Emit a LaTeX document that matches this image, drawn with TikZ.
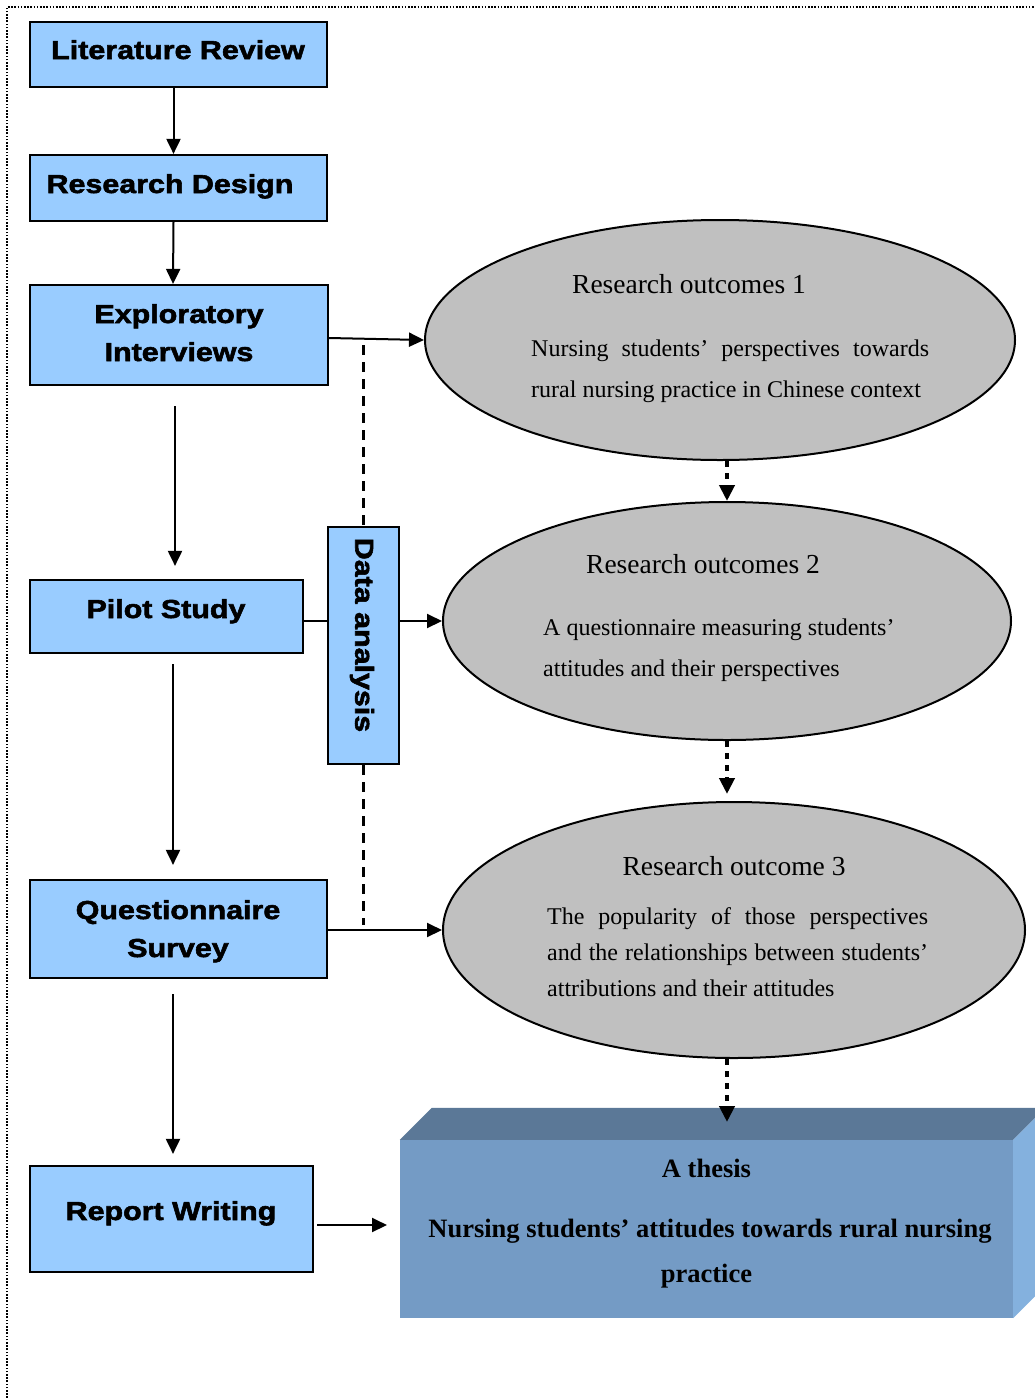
\documentclass[tikz,border=0pt]{standalone}
\usepackage{fontspec}
\setmainfont{Liberation Serif}
\newfontfamily\stagefamily{Liberation Sans}[FakeStretch=1.17, BoldFeatures={FakeBold=2.2}]
\usetikzlibrary{arrows.meta,shapes.geometric,calc}

\definecolor{boxblue}{RGB}{153,204,255}
\definecolor{outgray}{RGB}{192,192,192}
\definecolor{thesisfront}{RGB}{116,155,197}
\definecolor{thesistop}{RGB}{91,120,151}
\definecolor{thesisside}{RGB}{132,177,222}

\newcommand{\stagefont}{\stagefamily\bfseries\fontsize{26}{38}\selectfont}
\newcommand{\titlefont}{\fontsize{27.5}{33}\selectfont}
\newcommand{\bodyfont}{\fontsize{24}{41}\selectfont}
\newcommand{\thesisfont}{\bfseries\fontsize{26.5}{47}\selectfont}

\begin{document}
\begin{tikzpicture}[x=1pt,y=-1pt,
  stage/.style={draw=black, line width=2.2pt, fill=boxblue, inner sep=0pt},
  outcome/.style={ellipse, draw=black, line width=2pt, fill=outgray, inner sep=0pt},
  flow/.style={line width=2pt, -{Triangle[length=15pt,width=14pt]}},
  link/.style={line width=2pt},
  guide/.style={line width=2.2pt, dash pattern=on 10pt off 7pt},
  chain/.style={line width=4.5pt, dash pattern=on 6pt off 6pt,
                -{Triangle[length=16pt,width=15pt]}},
  label/.style={anchor=base, inner sep=0pt}]

\useasboundingbox (0,0) rectangle (1034,1398);

% page frame
\draw[line width=1.6pt, dash pattern=on 1.6pt off 1.6pt] (7,1398) -- (7,7) -- (1034,7);

% process stages
\node[stage, minimum width=297pt, minimum height=65pt]  (lr) at (178.5,54.5) {};
\node[stage, minimum width=297pt, minimum height=66pt]  (rd) at (178.5,188)  {};
\node[stage, minimum width=298pt, minimum height=100pt] (ei) at (179,335)    {};
\node[stage, minimum width=273pt, minimum height=73pt]  (ps) at (166.5,616.5){};
\node[stage, minimum width=297pt, minimum height=98pt]  (qs) at (178.5,929)  {};
\node[stage, minimum width=283pt, minimum height=106pt] (rw) at (171.5,1219) {};
\node[stage, minimum width=71pt,  minimum height=237pt] (da) at (363.5,645.5){};

\node[label, font=\stagefont] (lrt)  at (178,59)  {Literature Review};
\node[label, font=\stagefont] (rdt)  at (170,193) {Research Design};
\node[label, font=\stagefont] (eit1) at (179,323) {Exploratory};
\node[label, font=\stagefont] (eit2) at (179,361) {Interviews};
\node[label, font=\stagefont] (pst)  at (166,618) {Pilot Study};
\node[label, font=\stagefont] (qst1) at (178,919) {Questionnaire};
\node[label, font=\stagefont] (qst2) at (178,957) {Survey};
\node[label, font=\stagefont] (rwt)  at (171,1220){Report Writing};
\node[rotate=-90, inner sep=0pt, font=\stagefont] (dat) at (362,635) {Data analysis};

% research outcomes
\node[outcome, minimum width=590pt, minimum height=240pt] (e1) at (720,340) {};
\node[outcome, minimum width=568pt, minimum height=238pt] (e2) at (727,621) {};
\node[outcome, minimum width=582pt, minimum height=256pt] (e3) at (734,930) {};

\node[label, font=\titlefont] (e1t) at (689,293) {Research outcomes 1};
\node[label, anchor=base west, font=\bodyfont] (e1a) at (531,356)
  {\makebox[398pt][s]{Nursing students’ perspectives towards}};
\node[label, anchor=base west, font=\bodyfont] (e1b) at (531,397)
  {rural nursing practice in Chinese context};

\node[label, font=\titlefont] (e2t) at (703,573) {Research outcomes 2};
\node[label, anchor=base west, font=\bodyfont] (e2a) at (543,635)
  {A questionnaire measuring students’};
\node[label, anchor=base west, font=\bodyfont] (e2b) at (543,676)
  {attitudes and their perspectives};

\node[label, font=\titlefont] (e3t) at (734,875) {Research outcome 3};
\node[label, anchor=base west, font=\bodyfont] (e3a) at (547,924)
  {\makebox[381pt][s]{The popularity of those perspectives}};
\node[label, anchor=base west, font=\bodyfont] (e3b) at (547,960)
  {\makebox[381pt][s]{and the relationships between students’}};
\node[label, anchor=base west, font=\bodyfont] (e3c) at (547,996)
  {attributions and their attitudes};

% thesis block with its bevelled top and side
\node[fill=thesisfront, inner sep=0pt, minimum width=613pt, minimum height=178pt]
  (thesis) at (706.5,1229) {};
\fill[thesistop] (thesis.north west) -- ++(32,-32)
  -- ($(thesis.north east)+(32,-32)$) -- (thesis.north east) -- cycle;
\fill[thesisside] (thesis.north east) -- ++(32,-32)
  -- ($(thesis.south east)+(32,-32)$) -- (thesis.south east) -- cycle;

\node[label, font=\thesisfont] (tht) at (706.5,1177) {A thesis};
\node[label, font=\thesisfont] (tha) at (710,1237)
  {Nursing students’ attitudes towards rural nursing};
\node[label, font=\thesisfont] (thb) at (706.5,1282) {practice};

% main sequence
\draw[flow] ([xshift=-5pt]lr.south) -- ([xshift=-5pt]rd.north);
\draw[flow] ([xshift=-5pt]rd.south) -- ([xshift=-6pt]ei.north);
\draw[flow] ([xshift=-4pt,yshift=-20pt]ei.south) -- ([xshift=8.5pt,yshift=13pt]ps.north);
\draw[flow] ([xshift=6.5pt,yshift=-10pt]ps.south) -- ([xshift=-5.5pt,yshift=14pt]qs.north);
\draw[flow] ([xshift=-5.5pt,yshift=-15pt]qs.south) -- ([xshift=1.5pt,yshift=11pt]rw.north);

% links to the outcomes
\draw[flow] ([yshift=-3pt]ei.east) -- (e1.west);
\draw[link] (ps.east |- e2.west) -- (da.west |- e2.west);
\draw[flow] (da.east |- e2.west) -- (e2.west);
\draw[flow] (qs.east |- e3.west) -- (e3.west);
\coordinate (rwout) at (317,1225);
\coordinate (thin) at (387,1225);
\draw[flow] (rwout) -- (thin);

% data analysis guides
\draw[guide] ($(da.north |- e1.west)+(0,5)$) -- (da.north);
\draw[guide] (da.south) -- ($(da.south |- e3.west)+(0,-5)$);

% outcome chain
\coordinate (drop) at (727,1122);
\draw[chain] (e2.north |- e1.south) -- (e2.north);
\draw[chain] (e2.south) -- ($(e2.south |- e3.north)+(0,-7)$);
\draw[chain] (e3.south -| drop) -- (drop);

\end{tikzpicture}
\end{document}
